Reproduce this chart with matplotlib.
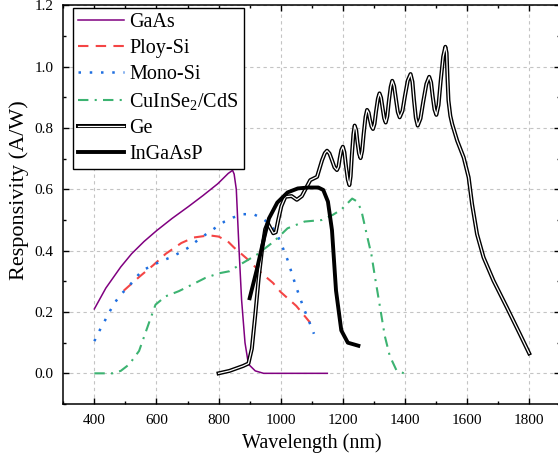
import numpy as np
import matplotlib
matplotlib.use("Agg")
import matplotlib.pyplot as plt
import matplotlib.patheffects as pe
from matplotlib.ticker import MultipleLocator, FormatStrFormatter

plt.rcParams['font.family'] = ['Liberation Serif', 'DejaVu Serif']
plt.rcParams['mathtext.fontset'] = 'custom'
plt.rcParams['mathtext.rm'] = 'Liberation Serif'
plt.rcParams['mathtext.it'] = 'Liberation Serif'
plt.rcParams['mathtext.default'] = 'regular'

# responsivity curves (nm, A/W)
gaas_x = [400, 437, 485, 520, 560, 600, 650, 703, 750, 797, 831, 845, 850, 857, 866, 874, 885, 896, 918, 945, 1000, 1150]
gaas_y = [0.21, 0.278, 0.347, 0.39, 0.43, 0.465, 0.505, 0.544, 0.58, 0.618, 0.652, 0.662, 0.65, 0.60, 0.40, 0.24, 0.10, 0.03, 0.008, 0.0, 0.0, 0.0]

poly_x = [495, 545, 590, 630, 680, 720, 770, 800, 830, 850, 890, 940, 975, 1000, 1050, 1095]
poly_y = [0.27, 0.315, 0.353, 0.39, 0.425, 0.443, 0.45, 0.446, 0.43, 0.41, 0.375, 0.325, 0.295, 0.265, 0.22, 0.165]

mono_x = [400, 416, 432, 448, 464, 485, 510, 531, 554, 581, 613, 645, 672, 703, 736, 780, 819, 846, 879, 912,
          940, 967, 989, 1005, 1022, 1049, 1066, 1082, 1093, 1107]
mono_y = [0.105, 0.138, 0.168, 0.199, 0.228, 0.257, 0.282, 0.309, 0.335, 0.349, 0.365, 0.378, 0.392, 0.41, 0.437,
          0.468, 0.495, 0.508, 0.519, 0.519, 0.506, 0.485, 0.452, 0.414, 0.37, 0.284, 0.235, 0.192, 0.165, 0.129]

cis_x = [400, 458, 485, 512, 544, 576, 597, 629, 672, 714, 757, 800, 835, 868, 923, 978, 1022, 1077, 1132, 1168,
         1195, 1230, 1245, 1259, 1276, 1292, 1303, 1319, 1335, 1351, 1373, 1397]
cis_y = [0, 0, 0.008, 0.029, 0.073, 0.165, 0.224, 0.251, 0.268, 0.289, 0.311, 0.326, 0.333, 0.354, 0.387, 0.43,
         0.473, 0.495, 0.50, 0.517, 0.534, 0.57, 0.561, 0.534, 0.457, 0.387, 0.317, 0.22, 0.122, 0.057, 0.009, 0.0]

ge_x = [800, 835, 879, 896, 907, 918, 929, 940, 950, 958, 966, 976, 984, 992, 1002, 1015, 1035, 1052, 1068, 1082,
        1095, 1117, 1133, 1142, 1149, 1157, 1165, 1173, 1181, 1186, 1190, 1195, 1200, 1205, 1210, 1216, 1221, 1225,
        1229, 1234, 1238, 1243, 1247, 1252, 1257, 1262, 1267, 1273, 1278, 1283, 1287, 1292, 1297, 1302, 1307, 1313,
        1318, 1323, 1328, 1333, 1338, 1343, 1348, 1354, 1359, 1365, 1371, 1377, 1383, 1392, 1400, 1409, 1418, 1424,
        1429, 1435, 1441, 1450, 1459, 1469, 1478, 1484, 1489, 1495, 1501, 1508, 1515, 1523, 1530, 1534, 1537, 1540,
        1546, 1552, 1568, 1589, 1605, 1616, 1632, 1653, 1685, 1728, 1770, 1800]
ge_y = [0.0, 0.008, 0.024, 0.032, 0.08, 0.19, 0.31, 0.405, 0.47, 0.49, 0.475, 0.457, 0.46, 0.5, 0.545, 0.576,
        0.578, 0.566, 0.578, 0.605, 0.63, 0.641, 0.695, 0.718, 0.726, 0.717, 0.695, 0.672, 0.663, 0.674, 0.701,
        0.728, 0.739, 0.721, 0.677, 0.632, 0.614, 0.642, 0.711, 0.78, 0.808, 0.793, 0.755, 0.717, 0.702, 0.725,
        0.78, 0.836, 0.859, 0.85, 0.828, 0.806, 0.797, 0.814, 0.855, 0.896, 0.913, 0.899, 0.865, 0.832, 0.818,
        0.838, 0.886, 0.934, 0.954, 0.937, 0.894, 0.852, 0.835, 0.856, 0.905, 0.955, 0.976, 0.951, 0.892, 0.833,
        0.808, 0.831, 0.887, 0.944, 0.967, 0.949, 0.905, 0.861, 0.843, 0.875, 0.954, 1.033, 1.065, 1.045, 0.96,
        0.89, 0.84, 0.813, 0.759, 0.704, 0.639, 0.552, 0.454, 0.378, 0.302, 0.215, 0.128, 0.065]

ingaasp_x = [900, 923, 940, 962, 989, 1022, 1055, 1088, 1121, 1137, 1152, 1165, 1178, 1195, 1216, 1250]
ingaasp_y = [0.245, 0.338, 0.414, 0.505, 0.557, 0.59, 0.603, 0.606, 0.606, 0.598, 0.56, 0.467, 0.27, 0.14, 0.10, 0.09]

fig = plt.figure(figsize=(5.58, 4.69), dpi=100)
ax = fig.add_axes([0.1134, 0.1386, 0.8907, 0.8499])

ax.plot(gaas_x, gaas_y, color='#800080', lw=1.1, label='GaAs')
ax.plot(poly_x, poly_y, color='#f44545', lw=1.5, ls=(0, (5, 3.5)), label='Ploy-Si')
ax.plot(mono_x, mono_y, color='#1f6fe0', lw=1.8, ls=(0, (1, 3.5)), label='Mono-Si')
ax.plot(cis_x, cis_y, color='#3cb371', lw=1.5, ls=(0, (5, 3, 1, 3)), label='CuInSe$_2$/CdS')
ax.plot(ge_x, ge_y, color='white', lw=0.9, solid_joinstyle='round',
        path_effects=[pe.Stroke(linewidth=2.9, foreground='black', joinstyle='round'), pe.Normal()], label='Ge')
ax.plot(ingaasp_x, ingaasp_y, color='black', lw=2.8, label='InGaAsP')

ax.set_xlim(300, 1900)
ax.set_ylim(-0.1, 1.2)
ax.set_xticks(np.arange(400, 1801, 200))
ax.xaxis.set_minor_locator(MultipleLocator(100))
ax.yaxis.set_major_locator(MultipleLocator(0.2))
ax.yaxis.set_minor_locator(MultipleLocator(0.1))
ax.yaxis.set_major_formatter(FormatStrFormatter('%.1f'))
ax.tick_params(which='both', direction='in', top=True, right=True, labelsize=11, width=1)
ax.tick_params(axis='x', pad=7.5)
ax.tick_params(axis='y', pad=7)
ax.tick_params(which='major', length=4.5)
ax.tick_params(which='minor', length=2.5)
for s in ax.spines.values():
    s.set_linewidth(1.1)
ax.grid(True, which='major', color='#c4c4c4', ls=(0, (3, 3)), lw=0.8)

ax.set_xlabel('Wavelength (nm)', fontsize=14.5)
ax.set_ylabel('Responsivity (A/W)', fontsize=16)
ax.yaxis.set_label_coords(-0.069, 0.537)

leg = ax.legend(loc='upper left', bbox_to_anchor=(0.0195, 0.9935), borderaxespad=0, fontsize=14.5,
                handlelength=2.3, handletextpad=0.25, labelspacing=0.34, fancybox=False, framealpha=1,
                edgecolor='black', borderpad=0.25)
leg.get_frame().set_linewidth(1.0)

fig.savefig('out.png', dpi=100)
